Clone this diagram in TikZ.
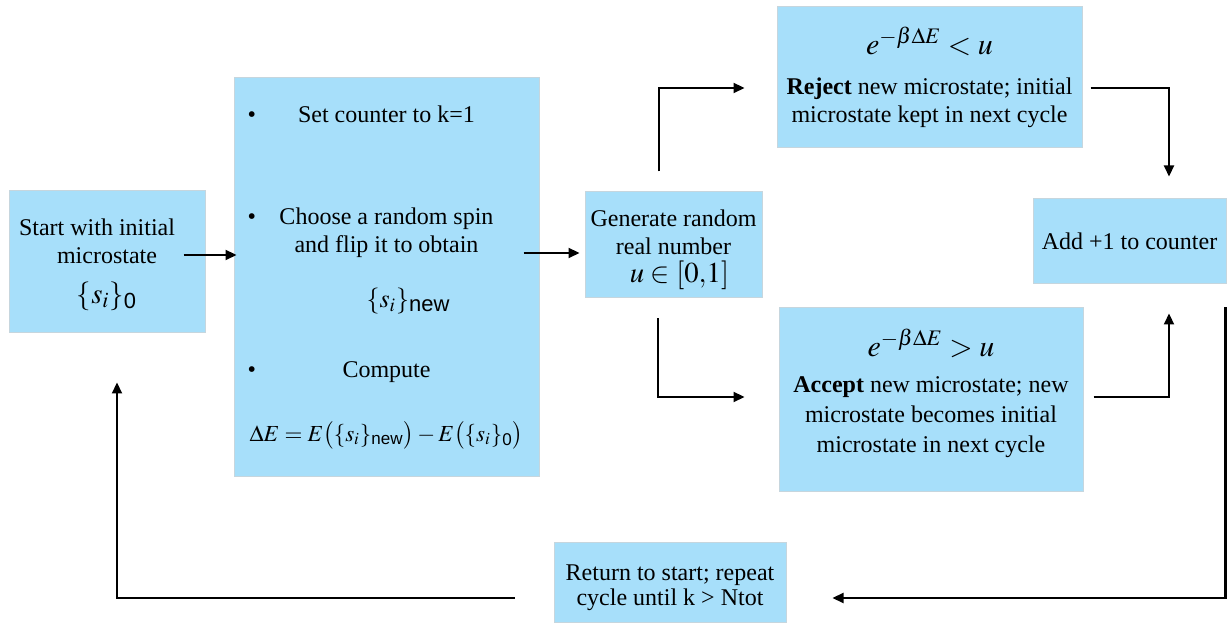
\documentclass[tikz,border=0pt]{standalone}
\usepackage{amsmath}
\usepackage{mathptmx}
\usepackage{fontspec}
\setmainfont{Liberation Serif}
\setsansfont{Liberation Sans}
\usetikzlibrary{arrows.meta}

\definecolor{boxblue}{RGB}{167,223,250}
\definecolor{boxedge}{RGB}{198,214,222}

\newcommand{\sfsub}[1]{_{\text{\sffamily #1}}}
\newcommand{\formulasize}{\fontsize{14.4pt}{17pt}\selectfont}
\newcommand{\condsize}{\fontsize{15pt}{18pt}\selectfont}
\newcommand{\bulletline}[1]{\makebox[144pt]{\rlap{\hspace*{2.5pt}\textbullet}\hfill#1\hfill}}

\begin{document}
\begin{tikzpicture}[x=0.5pt, y=-0.5pt,
                    stage box/.style={draw=boxedge, fill=boxblue, line width=0.5pt, align=center,
                                      inner sep=2pt, font=\fontsize{12pt}{14pt}\selectfont},
                    flow/.style={-{Triangle[length=5.5pt,width=5pt]}, line width=1.1pt}]

  \useasboundingbox (0,0) rectangle (1228,625);

  \node[stage box, minimum width=98pt, minimum height=71pt] (start) at (107,262)
       {\rule{0pt}{11.2pt}Start with initial\hspace*{10pt}\\ microstate\hspace*{10pt}\\[6pt]
        {\formulasize$\{s_i\}\sfsub{0}$}};
  \node[stage box, minimum width=152.5pt, minimum height=199.5pt] (sweep) at (386.5,277.5)
       {\bulletline{Set counter to k=1}\\[37pt]
        \bulletline{Choose a random spin}\\
        and flip it to obtain\\[13.5pt]
        {\fontsize{13pt}{15pt}\selectfont\hspace*{22pt}$\{s_i\}_{\mbox{\fontsize{11pt}{13pt}\sffamily new}}$}\\[21pt]
        \bulletline{Compute}\\[18pt]
        {\fontsize{11.5pt}{14pt}\selectfont$\Delta E = E\bigl(\{s_i\}\sfsub{new}\bigr) - E\bigl(\{s_i\}\sfsub{0}\bigr)$}};
  \node[stage box, minimum width=88.5pt, minimum height=53pt] (rand) at (673.5,245)
       {\rule{0pt}{13.2pt}Generate random\\ real number\\ {\formulasize\hspace*{6pt}$u \in [0{,}1]$}};
  \node[stage box, minimum width=152.5pt, minimum height=70.5pt] (reject) at (929.5,77.5)
       {{\condsize$e^{-\beta\Delta E} < u$}\\[6pt]
        \textbf{Reject} new microstate; initial\\ microstate kept in next cycle};
  \node[stage box, minimum width=152pt, minimum height=92pt,
        font=\fontsize{12pt}{15pt}\selectfont] (accept) at (931,400)
       {{\condsize$e^{-\beta\Delta E} > u$}\\[3pt]
        \textbf{Accept} new microstate; new\\ microstate becomes initial\\
        microstate in next cycle\rule[-9.6pt]{0pt}{0pt}};
  \node[stage box, minimum width=96.5pt, minimum height=42.5pt] (count) at (1129.5,241.5)
       {Add +1 to counter};
  \node[stage box, minimum width=116pt, minimum height=40pt,
        font=\fontsize{12pt}{12.5pt}\selectfont] (repeat) at (670,583)
       {\rule{0pt}{12.2pt}Return to start; repeat\\ cycle until k > Ntot};

  \draw[flow] ([shift={(-22,-7)}]start.east) -- ([shift={(3,-22.5)}]sweep.west);
  \draw[flow] ([shift={(-16,-24.5)}]sweep.east) -- ([shift={(-5,8)}]rand.west);
  \draw[flow] ([shift={(-14.5,-20)}]rand.north) |- ([shift={(-32,10.5)}]reject.west);
  \draw[flow] ([shift={(-15.5,20)}]rand.south) |- ([shift={(-34,-3)}]accept.west);
  \draw[flow] ([shift={(8,10.5)}]reject.east) -| ([shift={(39.5,-22)}]count.north);
  \draw[flow] ([shift={(10,-3)}]accept.east) -| ([shift={(39.5,29)}]count.south);
  \draw[flow] ([shift={(-1,23)}]count.south east) |- ([shift={(46,15)}]repeat.east);
  \draw[flow] ([shift={(-39,15)}]repeat.west) -| ([shift={(10,49)}]start.south);

\end{tikzpicture}
\end{document}
